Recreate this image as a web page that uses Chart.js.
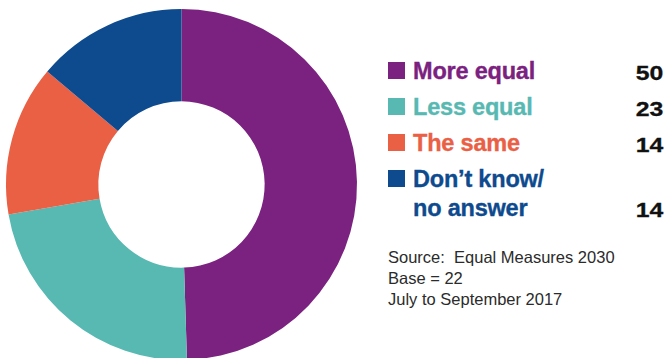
<!DOCTYPE html>
<html>
<head>
<meta charset="utf-8">
<script src="https://cdn.jsdelivr.net/npm/chart.js@4"></script>
<style>
  html, body { margin: 0; padding: 0; background: #fff; overflow: hidden; }
  body { width: 667px; height: 358px; position: relative; font-family: "Liberation Sans", Arial, sans-serif; }
  #wrap { position: absolute; left: 0; top: 0; width: 363px; height: 369px; }
  #legend { position: absolute; left: 388px; top: 57.4px; width: 275px; }
  .row { position: relative; margin-bottom: 7px; }
  .sw { position: absolute; left: 0; top: 4.6px; width: 17px; height: 17px; }
  .lab { margin-left: 25px; font-weight: 700; font-size: 23.5px; line-height: 29px; white-space: pre-line; letter-spacing: -0.2px; -webkit-text-stroke: 0.35px currentColor; }
  .val { position: absolute; right: 0; bottom: -1px; font-weight: 700; font-size: 21px; line-height: 29px; color: #111; transform: scaleX(1.18); transform-origin: right center; -webkit-text-stroke: 0.3px #111; }
  #note { position: absolute; left: 388px; top: 246.5px; font-size: 16.5px; line-height: 21px; color: #2b2b2b; white-space: pre; }
</style>
</head>
<body>
<div id="wrap"><canvas id="c"></canvas></div>
<div id="legend"></div>
<div id="note"></div>
<script>
// Survey answers and shares (%)
const categories = ["More equal", "Less equal", "The same", "Don\u2019t know/\nno answer"];
const shares = [50, 23, 14, 14];
const colors = ["#7b2180", "#57b9b2", "#ea6045", "#0d4a8e"];
const noteLines = ["Source:  Equal Measures 2030", "Base = 22", "July to September 2017"];

new Chart(document.getElementById("c"), {
  type: "doughnut",
  data: {
    labels: categories,
    datasets: [{
      data: shares,
      backgroundColor: colors,
      borderWidth: 0
    }]
  },
  options: {
    responsive: true,
    maintainAspectRatio: false,
    animation: false,
    radius: 175.5,
    cutout: 86,
    layout: { padding: 0 },
    plugins: {
      legend: { display: false },
      tooltip: { enabled: false }
    }
  }
});

// Legend with values
const legend = document.getElementById("legend");
categories.forEach((name, i) => {
  const row = document.createElement("div");
  row.className = "row";
  const sw = document.createElement("div");
  sw.className = "sw";
  sw.style.background = colors[i];
  const lab = document.createElement("div");
  lab.className = "lab";
  lab.style.color = colors[i];
  lab.textContent = name;
  const val = document.createElement("div");
  val.className = "val";
  val.textContent = shares[i];
  row.append(sw, lab, val);
  legend.appendChild(row);
});

document.getElementById("note").textContent = noteLines.join("\n");
</script>
</body>
</html>
